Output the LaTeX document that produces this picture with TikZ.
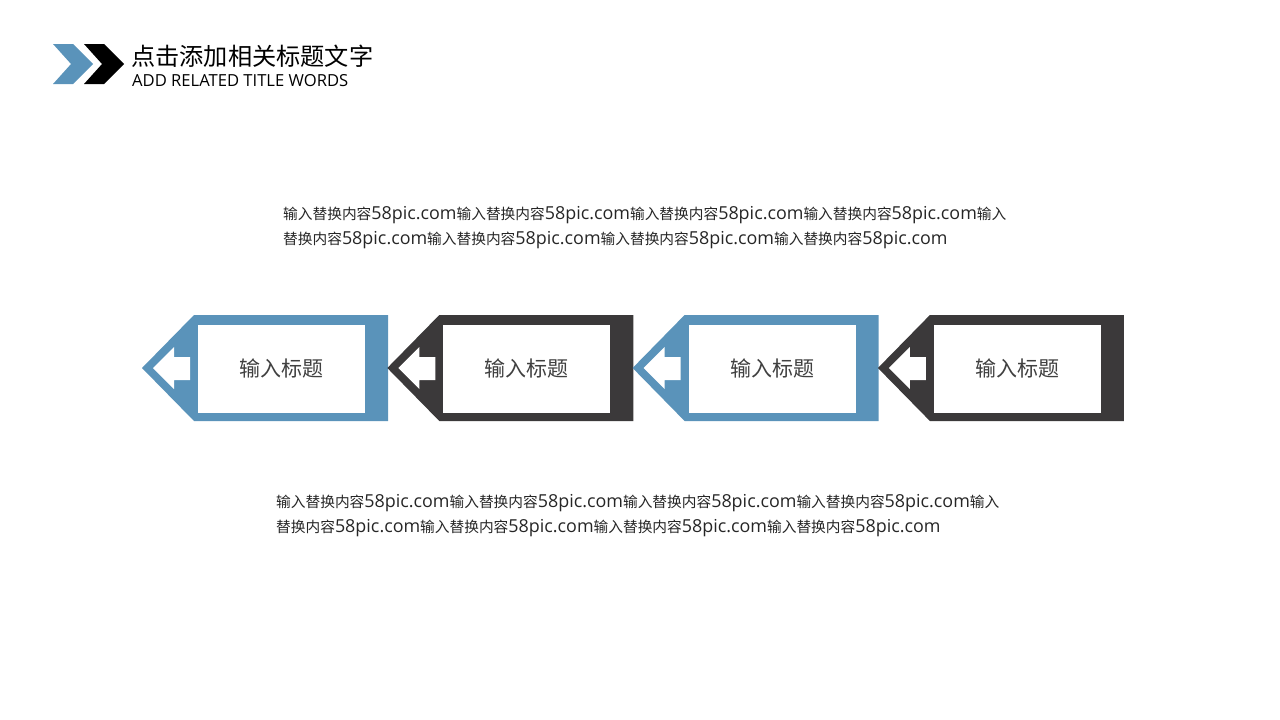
\documentclass[tikz,border=0pt]{standalone}
\usepackage{fontspec}
\setmainfont{Open Sans}
\newfontfamily\cjk{Noto Sans CJK SC}
\definecolor{tagblue}{RGB}{90,147,186}
\definecolor{tagdark}{RGB}{59,57,58}
\definecolor{txtgrey}{RGB}{64,64,64}
\definecolor{partxt}{RGB}{38,38,38}
\newcommand\lat[1]{{\fontsize{17.9}{20}\selectfont #1}}
\newcommand\rep{{\cjk 输入替换内容}\lat{58pic.com}}
\tikzset{
  partext/.style={anchor=west, inner sep=0pt, text=partxt, font=\fontsize{14.7}{25}\selectfont},
  tagtext/.style={inner sep=0pt, text=txtgrey, font=\cjk\fontsize{21}{24}\selectfont},
}
\begin{document}
\begin{tikzpicture}[x=1pt,y=-1pt]
\useasboundingbox (0,0) rectangle (1280,720);
% logo
\fill[tagblue] (53,44) -- (73,44) -- (93,64) -- (73,84) -- (53,84) -- (71,64) -- cycle;
\fill[black] (84,44) -- (104,44) -- (124,64) -- (104,84) -- (84,84) -- (102,64) -- cycle;
\node[anchor=west, inner sep=0pt, font=\cjk\fontsize{24.2}{28}\selectfont] (title) at (131,56) {点击添加相关标题文字};
\node[anchor=west, inner sep=0pt, font=\fontsize{16.6}{18}\selectfont] (subtitle) at (132,81) {ADD RELATED TITLE WORDS};
% upper paragraph
\node[partext] (p1a) at (283,215) {\rep\rep\rep\rep{\cjk 输入}};
\node[partext] (p1b) at (283,240) {{\cjk 替换内容}\lat{58pic.com}\rep\rep\rep};
% lower paragraph
\node[partext] (p2a) at (276,503) {\rep\rep\rep\rep{\cjk 输入}};
\node[partext] (p2b) at (276,528) {{\cjk 替换内容}\lat{58pic.com}\rep\rep\rep};
% tags
\foreach \i/\c in {0/tagblue,1/tagdark,2/tagblue,3/tagdark}{
  \pgfmathsetmacro\xo{142+245.3*\i}
  \fill[\c] (\xo,368) -- ({\xo+52},315) -- ({\xo+246},315) -- ({\xo+246},421) -- ({\xo+52},421) -- cycle;
  \fill[white] ({\xo+56},325) rectangle ({\xo+223},413);
  \fill[white] ({\xo+11},368) -- ({\xo+32},347) -- ({\xo+32},357) -- ({\xo+48},357) -- ({\xo+48},380) -- ({\xo+32},380) -- ({\xo+32},389) -- cycle;
  \node[tagtext] (tag\i) at ({\xo+139.5},368) {输入标题};
}
\end{tikzpicture}
\end{document}
